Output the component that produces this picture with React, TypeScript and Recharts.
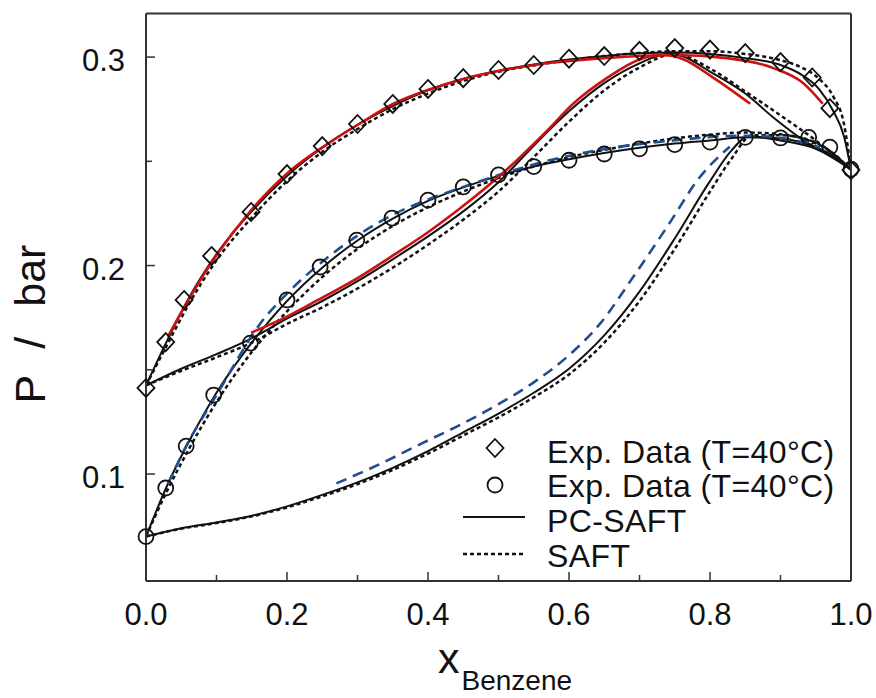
import { ComposedChart, Line, XAxis, YAxis } from 'recharts';

// tick values
const xTicks = [0, 0.1, 0.2, 0.3, 0.4, 0.5, 0.6, 0.7, 0.8, 0.9, 1.0];
const yTicks = [0.1, 0.15, 0.2, 0.25, 0.3];

// experimental points, system with diamonds
const expDiamond = [
  [0, 0.1413], [0.028, 0.1633], [0.054, 0.1835], [0.093, 0.2046], [0.149, 0.2257],
  [0.2, 0.2439], [0.25, 0.2573], [0.3, 0.2679], [0.35, 0.2775], [0.4, 0.2847],
  [0.45, 0.2899], [0.5, 0.2938], [0.55, 0.2962], [0.6, 0.2992], [0.65, 0.3005],
  [0.7, 0.303], [0.75, 0.3043], [0.8, 0.3036], [0.85, 0.3019], [0.9, 0.2976],
  [0.945, 0.2902], [0.97, 0.2755], [1.0, 0.2458],
];

// experimental points, system with circles
const expCircle = [
  [0, 0.07], [0.028, 0.0933], [0.057, 0.1134], [0.096, 0.1379], [0.148, 0.1628],
  [0.2, 0.1835], [0.247, 0.1993], [0.299, 0.2122], [0.349, 0.2228], [0.4, 0.2314],
  [0.45, 0.2377], [0.5, 0.2435], [0.55, 0.2475], [0.6, 0.2505], [0.65, 0.2535],
  [0.7, 0.256], [0.75, 0.258], [0.8, 0.2592], [0.85, 0.2615], [0.9, 0.2612],
  [0.94, 0.2615], [0.97, 0.2568], [1.0, 0.2462],
];

// PC-SAFT (solid black)
const pcBubbleA = [
  [0, 0.1425], [0.03, 0.164], [0.06, 0.184], [0.1, 0.2055], [0.15, 0.226], [0.2, 0.243],
  [0.25, 0.2565], [0.3, 0.2675], [0.35, 0.2765], [0.4, 0.284], [0.45, 0.2895], [0.5, 0.2935],
  [0.55, 0.2965], [0.6, 0.2988], [0.65, 0.3005], [0.7, 0.3018], [0.75, 0.3022], [0.8, 0.3015],
  [0.85, 0.2995], [0.9, 0.2962], [0.93, 0.2915], [0.955, 0.2845], [0.975, 0.274],
  [0.99, 0.262], [1.0, 0.246],
];
const pcDewA = [
  [0, 0.1425], [0.05, 0.1505], [0.1, 0.1575], [0.149, 0.165], [0.2, 0.1745], [0.25, 0.183],
  [0.3, 0.1925], [0.35, 0.203], [0.4, 0.214], [0.45, 0.226], [0.5, 0.24], [0.55, 0.2575],
  [0.6, 0.274], [0.65, 0.2875], [0.7, 0.297], [0.74, 0.3015], [0.76, 0.3005], [0.8, 0.293],
  [0.85, 0.2825], [0.89, 0.271], [0.94, 0.2585], [0.975, 0.2525], [1.0, 0.246],
];
const pcBubbleB = [
  [0, 0.07], [0.03, 0.0945], [0.06, 0.115], [0.1, 0.139], [0.15, 0.163], [0.2, 0.183],
  [0.25, 0.199], [0.3, 0.212], [0.35, 0.2225], [0.4, 0.231], [0.45, 0.2375], [0.5, 0.243],
  [0.55, 0.2475], [0.6, 0.251], [0.65, 0.254], [0.7, 0.2565], [0.75, 0.2585], [0.8, 0.26],
  [0.85, 0.2615], [0.9, 0.261], [0.94, 0.258], [0.97, 0.2535], [1.0, 0.246],
];
const pcDewB = [
  [0, 0.07], [0.05, 0.074], [0.1, 0.0768], [0.15, 0.08], [0.2, 0.0845], [0.25, 0.09],
  [0.3, 0.096], [0.35, 0.103], [0.4, 0.111], [0.45, 0.12], [0.5, 0.129], [0.55, 0.139],
  [0.6, 0.1505], [0.65, 0.1665], [0.7, 0.1875], [0.75, 0.213], [0.8, 0.2405], [0.83, 0.255],
  [0.855, 0.262], [0.9, 0.26], [0.95, 0.256], [1.0, 0.246],
];

// SAFT (dotted black)
const saftBubbleA = [
  [0, 0.1425], [0.03, 0.162], [0.06, 0.181], [0.1, 0.2025], [0.15, 0.223], [0.2, 0.2405],
  [0.25, 0.2545], [0.3, 0.2655], [0.35, 0.275], [0.4, 0.2825], [0.45, 0.2885], [0.5, 0.293],
  [0.55, 0.296], [0.6, 0.2985], [0.65, 0.3005], [0.7, 0.302], [0.75, 0.3028], [0.8, 0.3028],
  [0.85, 0.3015], [0.9, 0.2985], [0.93, 0.295], [0.955, 0.2895], [0.975, 0.281],
  [0.99, 0.268], [1.0, 0.246],
];
const saftDewA = [
  [0, 0.1425], [0.05, 0.1495], [0.1, 0.156], [0.15, 0.163], [0.2, 0.172], [0.25, 0.18],
  [0.3, 0.189], [0.35, 0.199], [0.4, 0.21], [0.45, 0.222], [0.5, 0.2355], [0.55, 0.252],
  [0.6, 0.269], [0.65, 0.284], [0.7, 0.295], [0.75, 0.3015], [0.8, 0.2945], [0.85, 0.2835],
  [0.9, 0.272], [0.95, 0.26], [1.0, 0.246],
];
const saftBubbleB = [
  [0, 0.07], [0.03, 0.092], [0.06, 0.1115], [0.1, 0.1345], [0.15, 0.1585], [0.2, 0.178],
  [0.25, 0.1945], [0.3, 0.208], [0.35, 0.219], [0.4, 0.228], [0.45, 0.2355], [0.5, 0.242],
  [0.55, 0.2475], [0.6, 0.252], [0.65, 0.2555], [0.7, 0.2585], [0.75, 0.261], [0.8, 0.2628],
  [0.85, 0.2638], [0.9, 0.263], [0.94, 0.26], [0.97, 0.255], [1.0, 0.246],
];
const saftDewB = [
  [0, 0.07], [0.05, 0.0738], [0.1, 0.0765], [0.15, 0.0797], [0.2, 0.084], [0.25, 0.0893],
  [0.3, 0.0952], [0.35, 0.102], [0.4, 0.1098], [0.45, 0.1185], [0.5, 0.1272], [0.55, 0.1368],
  [0.6, 0.1478], [0.65, 0.163], [0.7, 0.183], [0.75, 0.208], [0.8, 0.2355], [0.83, 0.251],
  [0.86, 0.2625], [0.9, 0.2625], [0.95, 0.259], [1.0, 0.246],
];

// red overlay curves
const redBubbleA = [
  [0.031, 0.1659], [0.045, 0.1745], [0.092, 0.201], [0.149, 0.2265], [0.205, 0.2456],
  [0.258, 0.2585], [0.305, 0.2685], [0.351, 0.2776], [0.404, 0.2847], [0.45, 0.2895],
  [0.5, 0.2933], [0.56, 0.2967], [0.649, 0.2995], [0.748, 0.301], [0.824, 0.2995],
  [0.89, 0.2947], [0.932, 0.2876], [0.96, 0.2776],
];
const redDewA = [
  [0.149, 0.1678], [0.2, 0.1755], [0.244, 0.1835], [0.3, 0.194], [0.351, 0.205], [0.4, 0.216],
  [0.442, 0.2265], [0.507, 0.2446], [0.569, 0.2647], [0.606, 0.2776], [0.654, 0.29],
  [0.701, 0.299], [0.734, 0.301], [0.762, 0.299], [0.805, 0.29], [0.857, 0.2776],
];

// blue dashed overlay curves
const blueBubbleB = [
  [0.031, 0.0952], [0.057, 0.1134], [0.102, 0.139], [0.163, 0.1726], [0.201, 0.1869],
  [0.258, 0.204], [0.305, 0.2155], [0.357, 0.2255], [0.404, 0.2322], [0.456, 0.2384],
  [0.507, 0.2442], [0.56, 0.2494], [0.654, 0.2561], [0.748, 0.26], [0.843, 0.2623],
  [0.9, 0.2613], [0.956, 0.2566],
];
const blueDewB = [
  [0.27, 0.0955], [0.33, 0.1045], [0.39, 0.1145], [0.445, 0.1235], [0.5, 0.1335],
  [0.55, 0.144], [0.6, 0.157], [0.645, 0.1725], [0.69, 0.194], [0.74, 0.219],
  [0.786, 0.2426], [0.828, 0.257],
];

const pts = (a: number[][]) => a.map(([x, y]) => ({ x, y }));

const FONT = '"Liberation Sans", Arial, Helvetica, sans-serif';
const INK = '#111';
const FRAME = '#333';

const BottomTick = ({ x, y, payload }: any) => {
  const v = payload.value;
  const major = Math.round(v * 100) % 20 === 0;
  return (
    <g>
      <line x1={x} x2={x} y1={y} y2={y - (major ? 9 : 6)} stroke={FRAME} strokeWidth={1.5} />
      {major && (
        <text x={x} y={y + 44} textAnchor="middle" fontSize={31} fontFamily={FONT} fill={INK}>
          {v.toFixed(1)}
        </text>
      )}
    </g>
  );
};

const TopTick = ({ x, y, payload }: any) => {
  const major = Math.round(payload.value * 100) % 20 === 0;
  return <line x1={x} x2={x} y1={y} y2={y + (major ? 9 : 6)} stroke={FRAME} strokeWidth={1.5} />;
};

const LeftTick = ({ x, y, payload }: any) => {
  const v = payload.value;
  const major = Math.round(v * 100) % 10 === 0;
  return (
    <g>
      <line x1={x} x2={x + (major ? 9 : 6)} y1={y} y2={y} stroke={FRAME} strokeWidth={1.5} />
      {major && (
        <text x={x - 21} y={y + 14} textAnchor="end" fontSize={31} fontFamily={FONT} fill={INK}>
          {v.toFixed(1)}
        </text>
      )}
    </g>
  );
};

const RightTick = ({ x, y, payload }: any) => {
  const major = Math.round(payload.value * 100) % 10 === 0;
  return <line x1={x} x2={x - (major ? 9 : 6)} y1={y} y2={y} stroke={FRAME} strokeWidth={1.5} />;
};

const DiamondDot = ({ cx, cy }: any) => {
  if (cx == null || cy == null) return null;
  return (
    <path
      d={`M${cx},${cy - 9} L${cx + 8.5},${cy} L${cx},${cy + 9} L${cx - 8.5},${cy} Z`}
      fill="none"
      stroke={INK}
      strokeWidth={1.8}
    />
  );
};

const CircleDot = ({ cx, cy }: any) => {
  if (cx == null || cy == null) return null;
  return <circle cx={cx} cy={cy} r={7.5} fill="none" stroke={INK} strokeWidth={1.8} />;
};

const XLabel = () => (
  <text x={438} y={673} fontFamily={FONT} fill={INK} fontSize={43}>
    x
    <tspan fontSize={28} dx={2} dy={17}>Benzene</tspan>
  </text>
);

const YLabel = () => (
  <text
    x={30}
    y={324}
    transform="rotate(-90, 30, 324)"
    textAnchor="middle"
    dominantBaseline="central"
    fontFamily={FONT}
    fill={INK}
    fontSize={43}
  >
    <tspan>P</tspan>
    <tspan dx={26}>/</tspan>
    <tspan dx={30}>bar</tspan>
  </text>
);

const solid = { stroke: INK, strokeWidth: 2 };
const dotted = { stroke: INK, strokeWidth: 2.5, strokeDasharray: '4 3' };
const red = { stroke: '#cc1111', strokeWidth: 2.6 };
const blue = { stroke: '#1f4f8f', strokeWidth: 2.6, strokeDasharray: '11 7' };

const curves: { data: number[][]; style: any }[] = [
  { data: saftBubbleA, style: dotted },
  { data: saftDewA, style: dotted },
  { data: saftBubbleB, style: dotted },
  { data: saftDewB, style: dotted },
  { data: pcBubbleA, style: solid },
  { data: pcDewA, style: solid },
  { data: pcBubbleB, style: solid },
  { data: pcDewB, style: solid },
];

const overlays: { data: number[][]; style: any }[] = [
  { data: blueBubbleB, style: blue },
  { data: blueDewB, style: blue },
  { data: redBubbleA, style: red },
  { data: redDewA, style: red },
];

const Legend = () => (
  <svg width={876} height={698} style={{ position: 'absolute', left: 0, top: 0, pointerEvents: 'none' }}>
    <DiamondDot cx={495} cy={448} />
    <CircleDot cx={495} cy={485} />
    <line x1={463} x2={525} y1={517} y2={517} stroke={INK} strokeWidth={2} />
    <line x1={463} x2={525} y1={554} y2={554} stroke={INK} strokeWidth={2.5} strokeDasharray="4 3" />
    <g fontFamily={FONT} fontSize={32} fill={INK} letterSpacing={0.4}>
      <text x={547} y={463}>Exp. Data (T=40°C)</text>
      <text x={547} y={497}>Exp. Data (T=40°C)</text>
      <text x={547} y={532}>PC-SAFT</text>
      <text x={547} y={567}>SAFT</text>
    </g>
  </svg>
);

const axisLine = { stroke: FRAME, strokeWidth: 2 };

export default function App() {
  return (
    <div style={{ position: 'absolute', left: 0, top: 0, width: 876, height: 698, background: '#fff' }}>
      <ComposedChart width={876} height={698} margin={{ top: 12.5, right: 24, bottom: 116, left: 145 }}>
        <XAxis
          xAxisId={0}
          dataKey="x"
          type="number"
          domain={[0, 1]}
          ticks={xTicks}
          interval={0}
          height={1}
          tickSize={0}
          tickMargin={0}
          tickLine={false}
          tick={<BottomTick />}
          axisLine={axisLine}
          label={<XLabel />}
        />
        <XAxis
          xAxisId="top"
          orientation="top"
          dataKey="x"
          type="number"
          domain={[0, 1]}
          ticks={xTicks}
          interval={0}
          height={1}
          tickSize={0}
          tickMargin={0}
          tickLine={false}
          tick={<TopTick />}
          axisLine={axisLine}
        />
        <YAxis
          yAxisId={0}
          type="number"
          domain={[0.0487, 0.3209]}
          ticks={yTicks}
          interval={0}
          width={1}
          tickSize={0}
          tickMargin={0}
          tickLine={false}
          tick={<LeftTick />}
          axisLine={axisLine}
          label={<YLabel />}
        />
        <YAxis
          yAxisId="right"
          orientation="right"
          type="number"
          domain={[0.0487, 0.3209]}
          ticks={yTicks}
          interval={0}
          width={1}
          tickSize={0}
          tickMargin={0}
          tickLine={false}
          tick={<RightTick />}
          axisLine={axisLine}
        />
        {curves.map((c, i) => (
          <Line
            key={`c${i}`}
            data={pts(c.data)}
            dataKey="y"
            type="monotone"
            dot={false}
            activeDot={false}
            fill="none"
            {...c.style}
            isAnimationActive={false}
          />
        ))}
        <Line
          data={pts(expDiamond)}
          dataKey="y"
          stroke="none"
          dot={<DiamondDot />}
          activeDot={false}
          isAnimationActive={false}
        />
        <Line
          data={pts(expCircle)}
          dataKey="y"
          stroke="none"
          dot={<CircleDot />}
          activeDot={false}
          isAnimationActive={false}
        />
        {overlays.map((c, i) => (
          <Line
            key={`o${i}`}
            data={pts(c.data)}
            dataKey="y"
            type="monotone"
            dot={false}
            activeDot={false}
            fill="none"
            {...c.style}
            isAnimationActive={false}
          />
        ))}
      </ComposedChart>
      <Legend />
    </div>
  );
}
